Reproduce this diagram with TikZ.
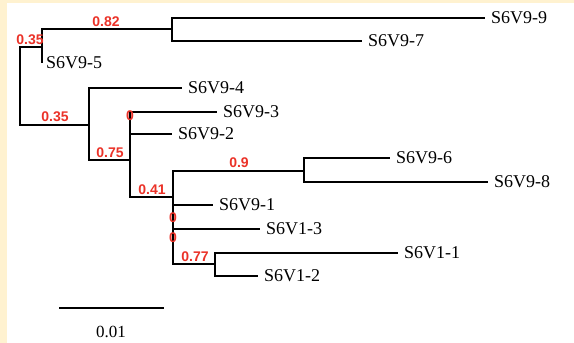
\documentclass[tikz,border=0pt]{standalone}
\usepackage{fontspec}
\setmainfont{Liberation Serif}
\setsansfont{Liberation Sans}
\usepackage{xcolor}
\usepackage{tikz}
\usetikzlibrary{positioning}

\definecolor{cream}{RGB}{255,242,208}
\definecolor{suppred}{RGB}{235,50,40}

\begin{document}
\begin{tikzpicture}[
        x=1pt, y=-1pt,
        branch/.style={line width=2pt},
        leaf/.style={inner sep=0pt, font=\fontsize{18}{20}\selectfont},
        support/.style={inner sep=0pt, text=suppred, font=\sffamily\bfseries\fontsize{14}{16}\selectfont}
    ]
        % Background
        \fill[cream] (0,0) rectangle (574,343);
        \fill[white] (7,3) rectangle (574,343);
        \useasboundingbox (0,0) rectangle (574,343);

        % Internal nodes
        \coordinate (root) at (20,86);
        \coordinate (a) at (42,47);
        \coordinate (b) at (172,29);
        \coordinate (c) at (89,125);
        \coordinate (d) at (130,160);
        \coordinate (f) at (173,197);
        \coordinate (g) at (304,171);
        \coordinate (h) at (215,264);

        % Tips
        \coordinate (t5) at (42,63);
        \coordinate (t9) at (485,18);
        \coordinate (t7) at (362,41);
        \coordinate (t4) at (182,88);
        \coordinate (t3) at (217,112);
        \coordinate (t2) at (172,134);
        \coordinate (t6) at (390,158);
        \coordinate (t8) at (488,182);
        \coordinate (t1) at (213,205);
        \coordinate (u3) at (260,229);
        \coordinate (u1) at (398,253);
        \coordinate (u2) at (258,276);

        % Branches
        \draw[branch] (root) |- (a);
        \draw[branch] (root) |- (c);
        \draw[branch] (a) |- (b);
        \draw[branch] (a) -- (t5);
        \draw[branch] (b) |- (t9);
        \draw[branch] (b) |- (t7);
        \draw[branch] (c) |- (t4);
        \draw[branch] (c) |- (d);
        \draw[branch] (d) |- (t3);
        \draw[branch] (d) |- (t2);
        \draw[branch] (d) |- (f);
        \draw[branch] (f) |- (g);
        \draw[branch] (f) |- (t1);
        \draw[branch] (f) |- (u3);
        \draw[branch] (f) |- (h);
        \draw[branch] (g) |- (t6);
        \draw[branch] (g) |- (t8);
        \draw[branch] (h) |- (u1);
        \draw[branch] (h) |- (u2);

        % Leaf labels
        \node[leaf, right=4pt of t5] (l5) {S6V9-5};
        \node[leaf, right=6pt of t9] (l9) {S6V9-9};
        \node[leaf, right=6pt of t7] (l7) {S6V9-7};
        \node[leaf, right=6pt of t4] (l4) {S6V9-4};
        \node[leaf, right=6pt of t3] (l3) {S6V9-3};
        \node[leaf, right=6pt of t2] (l2) {S6V9-2};
        \node[leaf, right=6pt of t6] (l6) {S6V9-6};
        \node[leaf, right=6pt of t8] (l8) {S6V9-8};
        \node[leaf, right=6pt of t1] (l1) {S6V9-1};
        \node[leaf, right=6pt of u3] (m3) {S6V1-3};
        \node[leaf, right=6pt of u1] (m1) {S6V1-1};
        \node[leaf, right=6pt of u2] (m2) {S6V1-2};

        % Support values
        \node[support] (sa) at (30,40) {0.35};
        \node[support] (sb) at (106,22) {0.82};
        \node[support] (sc) at (55,117) {0.35};
        \node[support] (sd) at (110,153) {0.75};
        \node[support] (se) at (130,116) {0};
        \node[support] (sf) at (152,190) {0.41};
        \node[support] (sg) at (239,163) {0.9};
        \node[support] (sz1) at (173,218) {0};
        \node[support] (sz2) at (173,238) {0};
        \node[support] (sh) at (195,257) {0.77};

        % Scale bar
        \coordinate (bar0) at (59,308);
        \coordinate (bar1) at (164,308);
        \draw[branch] (bar0) -- (bar1);
        \node[leaf, font=\fontsize{17}{19}\selectfont] (barlab) at (111,332) {0.01};
    \end{tikzpicture}
\end{document}
